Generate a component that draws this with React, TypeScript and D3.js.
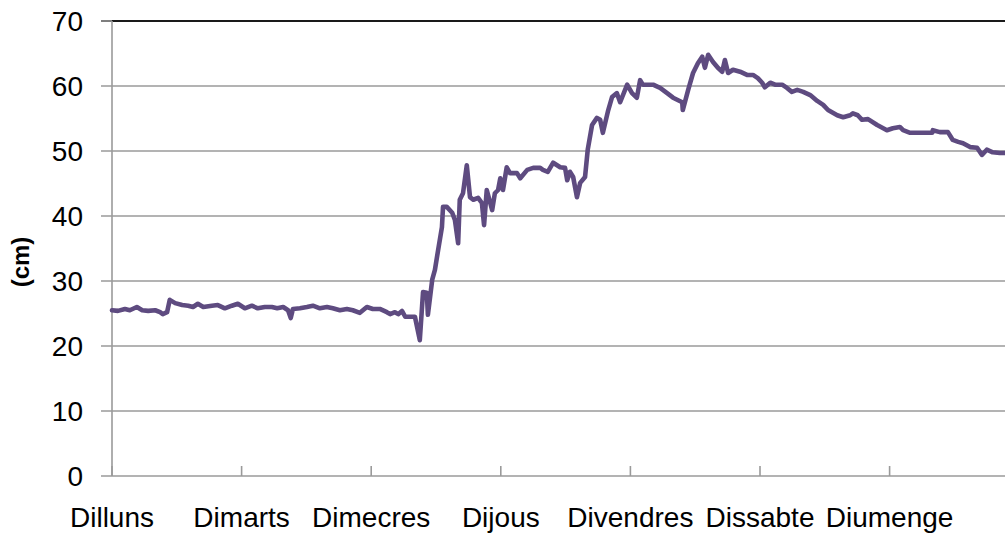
import React from "react";
import * as d3 from "d3";

const dayLabels = ["Dilluns", "Dimarts", "Dimecres", "Dijous", "Divendres", "Dissabte", "Diumenge"];
const yTicks = [0, 10, 20, 30, 40, 50, 60, 70];

// time in hours from Monday 00:00
const hours = [
  0, 1.1, 2.4, 3.3, 4.6, 5.6, 6.7, 8.0, 8.9, 9.4, 10.2, 10.7, 11.7, 13.0, 14.1, 15.0, 15.9, 16.9, 18.5, 19.6,
  20.9, 22.2, 23.3, 24.6, 25.9, 27.0, 28.3, 29.6, 30.6, 31.7, 32.6, 33.1, 33.5, 34.8, 36.1, 37.2, 38.5, 39.8, 40.9, 42.2,
  43.5, 44.6, 45.9, 47.2, 48.3, 49.6, 50.9, 51.5, 52.4, 53.0, 53.7, 54.3, 55.2, 56.1, 57.0, 57.6, 58.3, 58.5, 59.3, 59.8,
  60.4, 61.1, 61.3, 62.0, 63.0, 63.5, 64.1, 64.4, 65.0, 65.7, 66.3, 66.9, 67.8, 68.5, 68.9, 69.4, 70.4, 70.9, 71.5, 71.9,
  72.4, 73.1, 73.7, 75.0, 75.6, 76.9, 78.0, 79.3, 79.8, 80.7, 81.7, 83.0, 83.9, 84.3, 84.8, 85.4, 86.1, 86.7, 87.6, 88.1,
  88.9, 89.8, 90.4, 90.9, 91.9, 92.6, 93.5, 94.1, 95.4, 96.3, 97.2, 97.8, 98.3, 99.3, 100.2, 101.5, 102.8, 103.9, 105.6, 105.7,
  106.7, 107.6, 108.5, 109.3, 109.8, 110.4, 111.3, 112.2, 113.0, 113.5, 114.1, 115.0, 116.3, 117.6, 118.7, 119.6, 120.4, 120.9, 121.9, 122.8,
  124.1, 125.0, 125.9, 126.9, 128.0, 129.3, 130.6, 131.7, 132.6, 134.3, 135.4, 136.7, 137.2, 138.1, 138.9, 140.0, 141.7, 143.5, 144.6, 145.9,
  146.5, 147.8, 150.2, 151.9, 152.0, 153.3, 154.8, 155.7, 156.7, 157.6, 158.9, 160.2, 161.1, 162.0, 163.1, 164.4, 165.4,
];

// water level (cm)
const levels = [
  25.5, 25.4, 25.7, 25.5, 26.0, 25.5, 25.4, 25.5, 25.2, 24.9, 25.2, 27.1, 26.6, 26.3, 26.2, 26.0, 26.5, 26.0, 26.2, 26.3,
  25.8, 26.2, 26.5, 25.8, 26.2, 25.8, 26.0, 26.0, 25.8, 26.0, 25.5, 24.3, 25.7, 25.8, 26.0, 26.2, 25.8, 26.0, 25.8, 25.5,
  25.7, 25.5, 25.1, 26.0, 25.7, 25.7, 25.2, 24.9, 25.2, 24.9, 25.4, 24.5, 24.5, 24.5, 20.9, 28.3, 28.2, 24.8, 30.2, 31.7,
  34.8, 38.3, 41.4, 41.4, 40.5, 39.4, 35.8, 42.5, 43.5, 47.8, 42.9, 42.5, 42.8, 42.0, 38.6, 44.0, 40.9, 43.5, 44.0, 45.8,
  44.0, 47.5, 46.6, 46.6, 45.8, 47.1, 47.4, 47.4, 47.1, 46.8, 48.2, 47.5, 47.4, 45.5, 46.8, 46.0, 42.9, 45.1, 46.0, 50.2,
  54.0, 55.1, 54.8, 52.8, 56.3, 58.3, 58.9, 57.5, 60.2, 58.9, 58.2, 60.9, 60.2, 60.2, 60.2, 59.7, 58.9, 58.2, 57.5, 56.3,
  59.4, 62.0, 63.5, 64.5, 62.8, 64.8, 63.7, 62.8, 62.2, 64.0, 62.0, 62.5, 62.2, 61.7, 61.7, 61.2, 60.5, 59.8, 60.5, 60.2,
  60.2, 59.7, 59.1, 59.4, 59.1, 58.6, 57.7, 57.1, 56.3, 55.5, 55.2, 55.5, 55.8, 55.5, 54.8, 54.9, 54.0, 53.2, 53.5, 53.7,
  53.2, 52.8, 52.8, 52.8, 53.2, 52.9, 52.9, 51.7, 51.4, 51.2, 50.6, 50.5, 49.4, 50.2, 49.8, 49.7, 49.7,
];

const W = 1005;
const H = 534;
const left = 112;
const pxPerHour = 5.4;
const top = 21;
const bottom = 476;

export default function App() {
  const x = d3.scaleLinear().domain([0, 168]).range([left, left + 168 * pxPerHour]);
  const y = d3.scaleLinear().domain([0, 70]).range([bottom, top]);
  const pts = hours.map((h, i) => [h, levels[i]] as [number, number]);
  const line = d3
    .line<[number, number]>()
    .x((d) => x(d[0]))
    .y((d) => y(d[1]));
  const dayTicks = d3.range(0, 8).map((d) => d * 24);
  const font = "'Liberation Sans', Arial, sans-serif";

  return (
    <svg
      width={W}
      height={H}
      style={{ position: "absolute", left: 0, top: 0, background: "#fff" }}
    >
      {yTicks.map((t) => (
        <g key={t}>
          <line
            x1={left - 11}
            x2={W}
            y1={y(t)}
            y2={y(t)}
            stroke={t === 70 ? "#1a1a1a" : "#9a9a9a"}
            strokeWidth={t === 70 ? 1.8 : 1.6}
          />
          {t === 70 && (
            <line x1={left - 11} x2={left} y1={y(t)} y2={y(t)} stroke="#9a9a9a" strokeWidth={1.6} />
          )}
          <text
            x={83}
            y={y(t)}
            dy="0.35em"
            textAnchor="end"
            fontFamily={font}
            fontSize={28}
            fill="#000"
          >
            {t}
          </text>
        </g>
      ))}
      <line x1={left} x2={left} y1={top} y2={bottom} stroke="#9a9a9a" strokeWidth={1.6} />
      {dayTicks.map((h) => (
        <line key={h} x1={x(h)} x2={x(h)} y1={bottom} y2={bottom - 10} stroke="#9a9a9a" strokeWidth={1.6} />
      ))}
      {dayLabels.map((d, i) => (
        <text
          key={d}
          x={x(i * 24)}
          y={527}
          textAnchor="middle"
          fontFamily={font}
          fontSize={28}
          fill="#000"
        >
          {d}
        </text>
      ))}
      <text
        transform={`translate(29,262) rotate(-90)`}
        textAnchor="middle"
        fontFamily={font}
        fontSize={24}
        fontWeight="bold"
        fill="#000"
      >
        (cm)
      </text>
      <path
        d={line(pts) || ""}
        fill="none"
        stroke="#5e4b80"
        strokeWidth={4.6}
        strokeLinejoin="round"
        strokeLinecap="round"
      />
    </svg>
  );
}
